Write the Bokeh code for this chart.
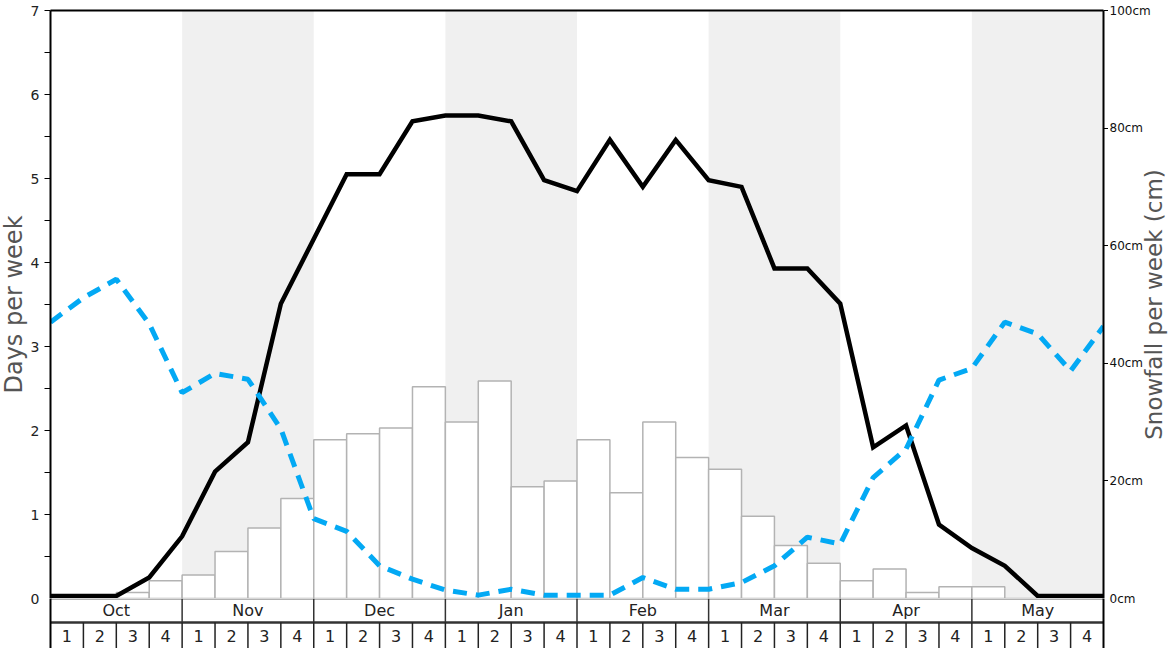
import math
from bokeh.plotting import figure
from bokeh.layouts import column, row
from bokeh.models import Range1d, LinearAxis, FixedTicker, CustomJSTickFormatter
from bokeh.core.properties import value
from bokeh.embed import file_html
from bokeh.resources import INLINE

months = ["Oct", "Nov", "Dec", "Jan", "Feb", "Mar", "Apr", "May"]
week_labels = ["1", "2", "3", "4"]
shaded_months = ["Nov", "Jan", "Mar", "May"]
day_ticks = [0, 1, 2, 3, 4, 5, 6, 7]
snow_ticks = [0, 20, 40, 60, 80, 100]

# snowfall per week (cm), 32 weeks
snowfall = [0, 0, 1, 3, 4, 8, 12, 17,
            27, 28, 29, 36, 30, 37, 19, 20,
            27, 18, 30, 24, 22, 14, 9, 6,
            3, 5, 1, 2, 2, 0, 0, 0]

# days per week (black line), at week boundaries (33 points)
days_black = [0.03, 0.03, 0.03, 0.25, 0.74, 1.51, 1.86, 3.51,
              4.28, 5.05, 5.05, 5.68, 5.75, 5.75, 5.68, 4.98,
              4.85, 5.46, 4.90, 5.46, 4.98, 4.90, 3.93, 3.93,
              3.51, 1.80, 2.06, 0.88, 0.60, 0.39, 0.03, 0.03, 0.03]

# days per week (blue dashed line)
days_blue = [3.29, 3.58, 3.80, 3.27, 2.45, 2.68, 2.61, 2.02,
             0.95, 0.80, 0.39, 0.23, 0.10, 0.04, 0.11, 0.04,
             0.04, 0.04, 0.25, 0.11, 0.11, 0.19, 0.39, 0.73,
             0.65, 1.44, 1.78, 2.60, 2.74, 3.29, 3.15, 2.71, 3.24]

n_weeks = len(months) * 4
FONT = "DejaVu Sans"

# layout sizes (pixels)
TOTAL_W, TOTAL_H = 1168, 648
TOP = 10
PLOT_H = 588          # 0..7 days region
TABLE_H = 50
LEFT_W = 44           # left title / tick label strip
TICK_L = 6
TICK_R = 5
FRAME_W = 1053
RIGHT_W = TOTAL_W - LEFT_W - TICK_L - FRAME_W - TICK_R

day_px = PLOT_H / 7.0
snow_px = PLOT_H / 100.0


def bare_axis(**kw):
    a = LinearAxis(ticker=FixedTicker(ticks=[], minor_ticks=[]), **kw)
    a.major_label_text_font_size = "0px"
    a.major_label_standoff = 0
    a.major_tick_out = 0
    a.major_tick_in = 0
    a.minor_tick_out = 0
    a.minor_tick_in = 0
    a.axis_line_color = "black"
    a.axis_line_width = 2
    return a


def clean(fig):
    fig.xaxis.visible = False
    fig.yaxis.visible = False
    fig.xgrid.visible = False
    fig.ygrid.visible = False
    fig.outline_line_color = None
    fig.background_fill_color = "white"
    fig.border_fill_color = "white"


# ---------------- main chart ----------------
p = figure(width=TICK_L + FRAME_W + TICK_R, height=TOP + PLOT_H, output_backend="svg",
           toolbar_location=None, x_range=Range1d(0, n_weeks), y_range=Range1d(0, 7),
           min_border_left=TICK_L, min_border_right=TICK_R, min_border_top=TOP, min_border_bottom=0)
p.extra_y_ranges = {"snow": Range1d(0, 100)}
clean(p)
p.add_layout(bare_axis(), "above")

lax = LinearAxis(ticker=FixedTicker(ticks=day_ticks, minor_ticks=[i + 0.5 for i in range(7)]),
                 formatter=CustomJSTickFormatter(code="return '';"))
lax.axis_line_color = "black"
lax.axis_line_width = 2
lax.major_tick_in = 0
lax.major_tick_out = TICK_L
lax.minor_tick_in = 0
lax.minor_tick_out = TICK_L
lax.major_label_standoff = 0
lax.major_label_text_font_size = "0px"
p.add_layout(lax, "left")

rax = LinearAxis(y_range_name="snow", ticker=FixedTicker(ticks=snow_ticks, minor_ticks=[]),
                 formatter=CustomJSTickFormatter(code="return '';"))
rax.axis_line_color = "black"
rax.axis_line_width = 2
rax.major_tick_in = 0
rax.major_tick_out = TICK_R
rax.minor_tick_out = 0
rax.minor_tick_in = 0
rax.major_label_standoff = 0
rax.major_label_text_font_size = "0px"
p.add_layout(rax, "right")

# shaded months
sh_left = [months.index(m) * 4 for m in shaded_months]
sh_right = [l + 4 for l in sh_left]
p.quad(left=sh_left, right=sh_right, bottom=0, top=7, fill_color="#f0f0f0", line_color=None)

# snowfall bars
weeks_x = [i + 0.5 for i in range(n_weeks)]
p.vbar(x=weeks_x, width=1.0, top=snowfall, bottom=0, y_range_name="snow",
       fill_color="white", line_color="#b3b3b3", line_width=1.5)

# lines
xs_line = list(range(n_weeks + 1))
p.line(xs_line, days_black, line_color="black", line_width=4.5, line_join="miter")
p.line(xs_line, days_blue, line_color="#03a9f4", line_width=5, line_dash="14 9")

# ---------------- month / week table ----------------
t = figure(width=TICK_L + FRAME_W + TICK_R, height=TABLE_H, output_backend="svg",
           toolbar_location=None, x_range=p.x_range, y_range=Range1d(0, TABLE_H),
           min_border_left=TICK_L, min_border_right=TICK_R, min_border_top=0, min_border_bottom=0)
clean(t)
t.add_layout(bare_axis(), "left")
t.add_layout(bare_axis(), "right")

t.segment(x0=[0], y0=[49.4], x1=[n_weeks], y1=[49.4], line_color="#999999", line_width=1.5)
t.segment(x0=[0], y0=[26], x1=[n_weeks], y1=[26], line_color="#333333", line_width=2.5)
mb = [i * 4 for i in range(1, len(months))]
t.segment(x0=mb, y0=[26] * len(mb), x1=mb, y1=[50] * len(mb), line_color="#333333", line_width=1.5)
wb = list(range(1, n_weeks))
t.segment(x0=wb, y0=[0] * len(wb), x1=wb, y1=[26] * len(wb), line_color="#222222", line_width=1.5)

t.text(x=[i * 4 + 2 for i in range(len(months))], y=[38] * len(months), text=months,
       text_align="center", text_baseline="middle", text_font=value(FONT),
       text_font_size="16px", text_color="#222222")
wl = [week_labels[i % 4] for i in range(n_weeks)]
t.text(x=weeks_x, y=[13] * n_weeks, text=wl,
       text_align="center", text_baseline="middle", text_font=value(FONT),
       text_font_size="16px", text_color="#222222")

# ---------------- left strip: day tick labels + title ----------------
fl = figure(width=LEFT_W, height=TOTAL_H, output_backend="svg", toolbar_location=None,
            x_range=Range1d(0, LEFT_W),
            y_range=Range1d(-(TOTAL_H - TOP - PLOT_H) / day_px, 7 + TOP / day_px),
            min_border_left=0, min_border_right=0, min_border_top=0, min_border_bottom=0)
clean(fl)
fl.text(x=[LEFT_W - 5] * len(day_ticks), y=day_ticks, text=[str(v) for v in day_ticks],
        text_align="right", text_baseline="middle", text_font=value(FONT),
        text_font_size="14px", text_color="#222222")
fl.text(x=[13], y=[3.5], text=["Days per week"], angle=math.pi / 2,
        text_align="center", text_baseline="middle", text_font=value(FONT),
        text_font_size="24px", text_color="#555555")

# ---------------- right strip: snowfall tick labels + title ----------------
fr = figure(width=RIGHT_W, height=TOTAL_H, output_backend="svg", toolbar_location=None,
            x_range=Range1d(0, RIGHT_W),
            y_range=Range1d(-(TOTAL_H - TOP - PLOT_H) / snow_px, 100 + TOP / snow_px),
            min_border_left=0, min_border_right=0, min_border_top=0, min_border_bottom=0)
clean(fr)
fr.text(x=[1] * len(snow_ticks), y=snow_ticks, text=[f"{v}cm" for v in snow_ticks],
        text_align="left", text_baseline="middle", text_font=value(FONT),
        text_font_size="12px", text_color="#111111")
fr.text(x=[RIGHT_W - 15], y=[50], text=["Snowfall per week (cm)"], angle=math.pi / 2,
        text_align="center", text_baseline="middle", text_font=value(FONT),
        text_font_size="23px", text_color="#555555")

layout = row(fl, column(p, t, spacing=0), fr, spacing=0)
open("out.html", "w").write(file_html(layout, INLINE))
